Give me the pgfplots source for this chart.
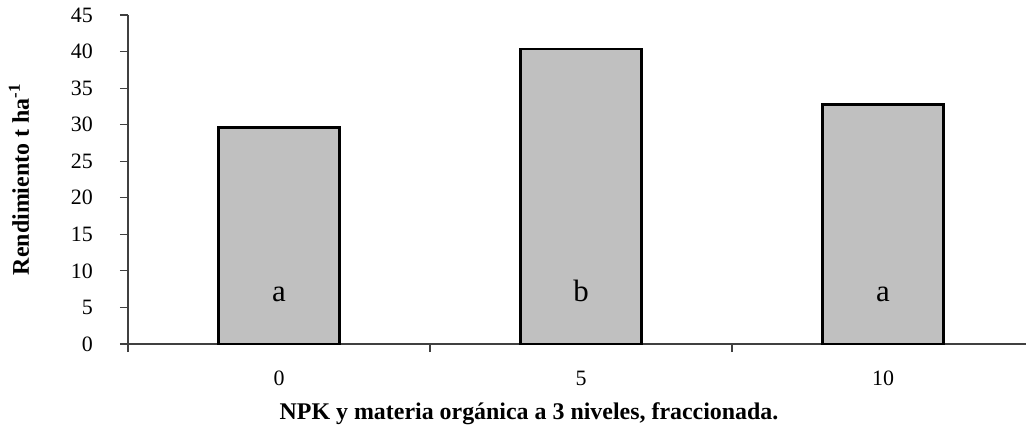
\documentclass[border=0pt]{standalone}
\usepackage{fontspec}
\setmainfont{Liberation Serif}
\usepackage{pgfplots}
\pgfplotsset{compat=1.18}
\definecolor{barfill}{HTML}{C0C0C0}
\definecolor{axcol}{HTML}{404040}
\begin{document}
\begin{tikzpicture}
\useasboundingbox (-128bp,-89bp) rectangle (898bp,344bp);
\begin{axis}[
  at={(0,0)}, anchor=south west,
  scale only axis, width=898bp, height=329bp,
  xmin=-0.5, xmax=2.4735, ymin=0, ymax=45,
  axis x line*=bottom, axis y line*=left,
  axis line style={axcol, line width=1.1bp},
  /pgf/number format/assume math mode=true,
  tick align=outside,
  major tick length=8bp,
  tick style={axcol, line width=1.1bp},
  ytick={0,5,...,45},
  yticklabel style={font=\fontsize{22}{26}\selectfont, anchor=east, inner sep=0pt, xshift=-27bp},
  xtick={-0.5,0.5,1.5}, xticklabels={,,},
  extra x ticks={0,1,2}, extra x tick labels={0,5,10},
  extra x tick style={major tick length=0pt, tick style={draw=none}},
  xticklabel style={font=\fontsize{22}{26}\selectfont, anchor=center, inner sep=0pt, yshift=-34bp},
  ylabel={Rendimiento t ha\textsuperscript{-1}},
  ylabel style={font=\fontsize{24}{28}\selectfont\bfseries, at={(axis description cs:-0.1215,0.5)}, anchor=center},
  xlabel={NPK y materia orgánica a 3 niveles, fraccionada.},
  xlabel style={font=\fontsize{24}{28}\selectfont\bfseries, at={(axis description cs:0.4466,0)}, anchor=center, yshift=-70bp},
  clip=false,
]
\addplot[ybar, bar width=0.402, fill=barfill, draw=black, line width=2.7bp]
  coordinates {(0,29.6) (1,40.35) (2,32.8)};
\addplot[draw=none, mark=none, nodes near coords, point meta=explicit symbolic,
  every node near coord/.append style={anchor=base, inner sep=0pt, font=\fontsize{31}{36}\selectfont}]
  coordinates {(0,5.8)[a] (1,5.8)[b] (2,5.8)[a]};
\end{axis}
\end{tikzpicture}
\end{document}
